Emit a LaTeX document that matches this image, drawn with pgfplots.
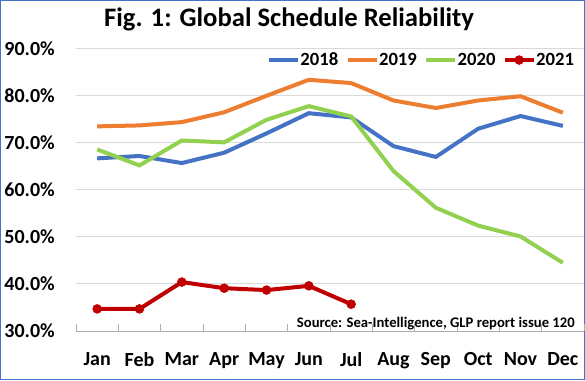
\documentclass[border=0pt]{standalone}
\usepackage{pgfplots}
\pgfplotsset{compat=1.18}
\usepackage{fontspec}
\setmainfont{Carlito}
\definecolor{cblue}{HTML}{4472C4}
\definecolor{corange}{HTML}{ED7D31}
\definecolor{cgreen}{HTML}{92D050}
\definecolor{cred}{HTML}{C00000}
\definecolor{cgrid}{HTML}{D9D9D9}
\begin{document}
\begin{tikzpicture}
\useasboundingbox (0,0) rectangle (438.75pt,285pt);
\draw[cblue, line width=0.75pt] (0.375pt,0.375pt) rectangle (438.375pt,284.625pt);
\node[anchor=base, inner sep=0pt, font=\fontsize{20}{24}\selectfont\bfseries] at (216.75pt,265.5pt) {Fig. 1: Global Schedule Reliability};
\begin{axis}[
  at={(57pt,36.75pt)}, anchor=south west,
  scale only axis, width=381pt, height=211.7pt,
  xmin=-0.5, xmax=11.5, ymin=30, ymax=90,
  xtick={0,...,11},
  xticklabels={Jan,Feb,Mar,Apr,May,Jun,Jul,Aug,Sep,Oct,Nov,Dec},
  minor xtick={-0.5,0.5,...,11.5},
  ytick={30,40,...,90},
  yticklabel={\pgfmathprintnumber[fixed,fixed zerofill,precision=1]{\tick}\%},
  /pgf/number format/assume math mode=true,
  major tick length=0pt, minor tick length=5pt, tick align=inside,
  minor tick style={cgrid!80!black, line width=0.75pt},
  axis x line*=bottom, axis y line*=left,
  axis line style={-},
  x axis line style={draw=cgrid!80!black, line width=0.75pt},
  y axis line style={draw=none},
  ymajorgrids, grid style={cgrid, line width=0.75pt},
  tick label style={font=\fontsize{15}{18}\selectfont\bfseries, inner sep=0pt},
  xticklabel style={anchor=north, yshift=-15.75pt},
  yticklabel style={anchor=east, xshift=-15.75pt},
  clip=false,
  legend columns=4,
  legend style={at={(0.982,0.96)}, anchor=east, draw=none, fill=none,
    inner sep=0pt, font=\fontsize{14}{16}\selectfont\bfseries,
    nodes={inner sep=0.4pt},
    /tikz/every odd column/.append style={column sep=0pt},
    /tikz/every even column/.append style={column sep=5pt}},
  legend image code/.code={\draw[mark repeat=2,mark phase=2,#1] plot coordinates {(0pt,0pt) (10.875pt,0pt) (21.75pt,0pt)};},
  every axis plot/.append style={line width=3pt},
]
\addplot[cblue, no markers] coordinates {(0,66.7) (1,67.2) (2,65.7) (3,67.9) (4,72.0) (5,76.3) (6,75.4) (7,69.3) (8,67.0) (9,73.0) (10,75.7) (11,73.6)};
\addlegendentry{2018}
\addplot[corange, no markers] coordinates {(0,73.5) (1,73.7) (2,74.4) (3,76.5) (4,80.0) (5,83.4) (6,82.7) (7,79.0) (8,77.4) (9,79.0) (10,79.9) (11,76.4)};
\addlegendentry{2019}
\addplot[cgreen, no markers] coordinates {(0,68.6) (1,65.2) (2,70.5) (3,70.1) (4,74.9) (5,77.8) (6,75.6) (7,64.0) (8,56.2) (9,52.4) (10,50.1) (11,44.5)};
\addlegendentry{2020}
\addplot[cred, mark=*, mark size=3.3pt, mark options={line width=0.5pt, fill=cred}] coordinates {(0,34.7) (1,34.7) (2,40.4) (3,39.1) (4,38.7) (5,39.6) (6,35.7)};
\addlegendentry{2021}
\end{axis}
\node[anchor=base east, inner sep=0pt, font=\fontsize{11}{13}\selectfont\bfseries] at (431.25pt,39.5pt) {Source: Sea-Intelligence, GLP report issue 120};
\end{tikzpicture}
\end{document}
